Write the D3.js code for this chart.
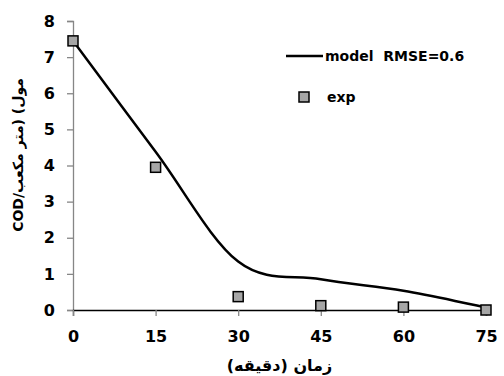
<!DOCTYPE html>
<html>
<head>
<meta charset="utf-8">
<script src="https://cdn.jsdelivr.net/npm/d3@7"></script>
<style>
  body { margin: 0; background: #fff; }
  svg text { font-family: "DejaVu Sans", sans-serif; }
</style>
</head>
<body>
<svg id="chart" width="504" height="376"></svg>
<script>
'use strict';

// زمان (دقیقه)
const times = [0, 15, 30, 45, 60, 75];
const modelValues = [7.45, 4.38, 1.34, 0.85, 0.53, 0.07];
const expValues = [7.45, 3.95, 0.37, 0.12, 0.08, 0.0];
const xTicks = [0, 15, 30, 45, 60, 75];
const yTicks = [0, 1, 2, 3, 4, 5, 6, 7, 8];

const W = 504, H = 376;
const margin = { left: 73, right: 18, top: 21, bottom: 66 };

const svg = d3.select('#chart');

const x = d3.scaleLinear().domain([0, 75]).range([margin.left, W - margin.right]);
const y = d3.scaleLinear().domain([0, 8]).range([H - margin.bottom, margin.top]);

// محور عمودی
const yAxis = svg.append('g')
  .attr('transform', `translate(${margin.left},0)`)
  .call(d3.axisLeft(y).tickValues(yTicks).tickSize(6).tickPadding(12).tickFormat(d3.format('d')));
yAxis.select('.domain').attr('stroke', '#868686').attr('stroke-width', 1.3);
yAxis.selectAll('.tick line').attr('stroke', '#868686').attr('stroke-width', 1.3);
yAxis.selectAll('.tick text')
  .attr('font-size', 16).attr('font-weight', 'bold').attr('fill', '#000');

// محور افقی
const xAxis = svg.append('g')
  .attr('transform', `translate(0,${y(0)})`)
  .call(d3.axisBottom(x).tickValues(xTicks).tickSize(6).tickPadding(15).tickFormat(d3.format('d')));
xAxis.select('.domain').attr('stroke', '#000').attr('stroke-width', 1.3);
xAxis.selectAll('.tick line').attr('stroke', '#868686').attr('stroke-width', 1.3);
xAxis.selectAll('.tick text')
  .attr('font-size', 16).attr('font-weight', 'bold').attr('fill', '#000');

// عنوان‌ها
svg.append('text')
  .attr('x', (margin.left + W - margin.right) / 2)
  .attr('y', 371)
  .attr('text-anchor', 'middle')
  .attr('font-size', 16)
  .attr('font-weight', 'bold')
  .text('زمان (دقیقه)');

svg.append('text')
  .attr('transform', `translate(23,155) rotate(-90)`)
  .attr('text-anchor', 'middle')
  .attr('font-size', 14)
  .attr('font-weight', 'bold')
  .text('COD/مول) (متر مکعب');

// منحنی مدل
const line = d3.line()
  .x((d, i) => x(times[i]))
  .y(d => y(d))
  .curve(d3.curveCardinal.tension(0));

svg.append('path')
  .datum(modelValues)
  .attr('d', line)
  .attr('fill', 'none')
  .attr('stroke', '#000')
  .attr('stroke-width', 2.5);

// داده‌های آزمایشی
const sq = 10;
svg.append('g').selectAll('rect')
  .data(expValues)
  .join('rect')
  .attr('x', (d, i) => x(times[i]) - sq / 2)
  .attr('y', d => y(d) - sq / 2)
  .attr('width', sq).attr('height', sq)
  .attr('fill', '#a6a6a6')
  .attr('stroke', '#000')
  .attr('stroke-width', 1.5);

// راهنما
const leg = svg.append('g');
leg.append('line')
  .attr('x1', 286).attr('x2', 323).attr('y1', 56).attr('y2', 56)
  .attr('stroke', '#000').attr('stroke-width', 2.5);
leg.append('text')
  .attr('x', 325).attr('y', 61)
  .attr('font-size', 14).attr('font-weight', 'bold')
  .attr('xml:space', 'preserve')
  .text('model  RMSE=0.6');
leg.append('rect')
  .attr('x', 304 - sq / 2).attr('y', 97 - sq / 2)
  .attr('width', sq).attr('height', sq)
  .attr('fill', '#a6a6a6').attr('stroke', '#000').attr('stroke-width', 1.5);
leg.append('text')
  .attr('x', 327).attr('y', 102)
  .attr('font-size', 14).attr('font-weight', 'bold')
  .text('exp');
</script>
</body>
</html>
